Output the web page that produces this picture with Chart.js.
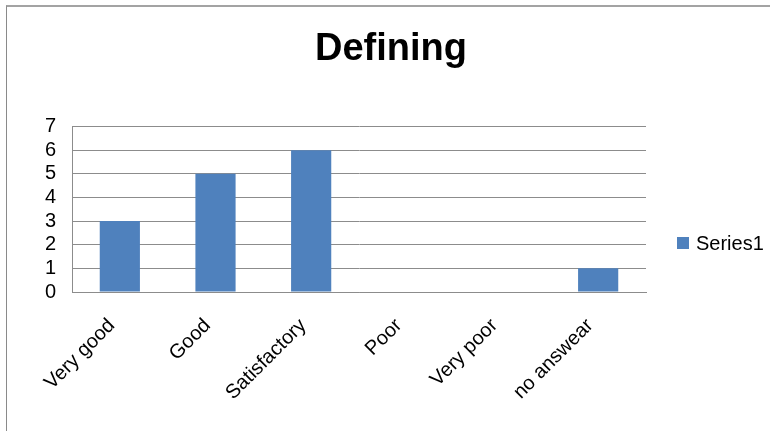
<!DOCTYPE html>
<html>
<head>
<meta charset="utf-8">
<script src="https://cdn.jsdelivr.net/npm/chart.js@4/dist/chart.umd.min.js"></script>
<style>
  html,body{margin:0;padding:0;background:#fff;}
  #wrap{position:relative;width:770px;height:431px;overflow:hidden;}
  #frame{position:absolute;left:6px;top:5px;right:0;bottom:0;border-top:2px solid #a3a3a3;border-left:1px solid #8a8a8a;}
  #chart{position:absolute;left:0;top:0;}
</style>
</head>
<body>
<div id="wrap">
  <div id="frame"></div>
  <canvas id="chart" width="770" height="431"></canvas>
</div>
<script>
const categories = ['Very good', 'Good', 'Satisfactory', 'Poor', 'Very poor', 'no answear'];
const series1 = [3, 5, 6, 0, 0, 1];
const yMin = 0, yMax = 7, yStep = 1;

const FONT = "'Liberation Sans', Arial, sans-serif";
const BLUE = '#4F81BD';
const GRID = '#8c8c8c';

// legend drawn beside the plot, one entry per dataset
const sideLegend = {
  id: 'sideLegend',
  afterDraw(chart){
    const ctx = chart.ctx;
    ctx.save();
    chart.data.datasets.forEach((ds, i) => {
      const x = 677, y = 243 + i * 24;
      ctx.fillStyle = ds.backgroundColor;
      ctx.fillRect(x, y - 6, 12, 12);
      ctx.fillStyle = '#000';
      ctx.font = `20px ${FONT}`;
      ctx.textBaseline = 'middle';
      ctx.textAlign = 'left';
      ctx.fillText(ds.label, x + 19, y + 1);
    });
    ctx.restore();
  }
};

new Chart(document.getElementById('chart'), {
  type: 'bar',
  data: {
    labels: categories,
    datasets: [{
      label: 'Series1',
      data: series1,
      backgroundColor: BLUE,
      borderWidth: 0,
      categoryPercentage: 1,
      barPercentage: 0.42
    }]
  },
  options: {
    responsive: false,
    animation: false,
    layout: { padding: { left: 12, right: 0, top: 0, bottom: 0 } },
    plugins: {
      legend: { display: false },
      tooltip: { enabled: false },
      title: {
        display: true,
        text: 'Defining',
        color: '#000',
        font: { family: FONT, size: 38, weight: 'bold' },
        padding: { top: 27, bottom: 54 }
      }
    },
    scales: {
      x: {
        grid: { display: false, drawTicks: false },
        border: { display: true, color: GRID, width: 1 },
        ticks: {
          color: '#000',
          font: { family: FONT, size: 20 },
          minRotation: 45,
          maxRotation: 45,
          padding: 22,
          labelOffset: -8,
          autoSkip: false
        },
        afterFit(s){ s.height = 139; }
      },
      y: {
        min: yMin,
        max: yMax,
        grid: { color: GRID, lineWidth: 1, drawTicks: false },
        border: { display: true, color: GRID, width: 1 },
        ticks: {
          stepSize: yStep,
          autoSkip: false,
          color: '#000',
          font: { family: FONT, size: 20 },
          padding: 16
        },
        afterFit(s){ s.width = 60; }
      },
      spacer: {
        position: 'right',
        display: true,
        grid: { display: false, drawTicks: false },
        border: { display: false },
        ticks: { display: false },
        afterFit(s){ s.width = 124; }
      }
    }
  },
  plugins: [sideLegend]
});
</script>
</body>
</html>
